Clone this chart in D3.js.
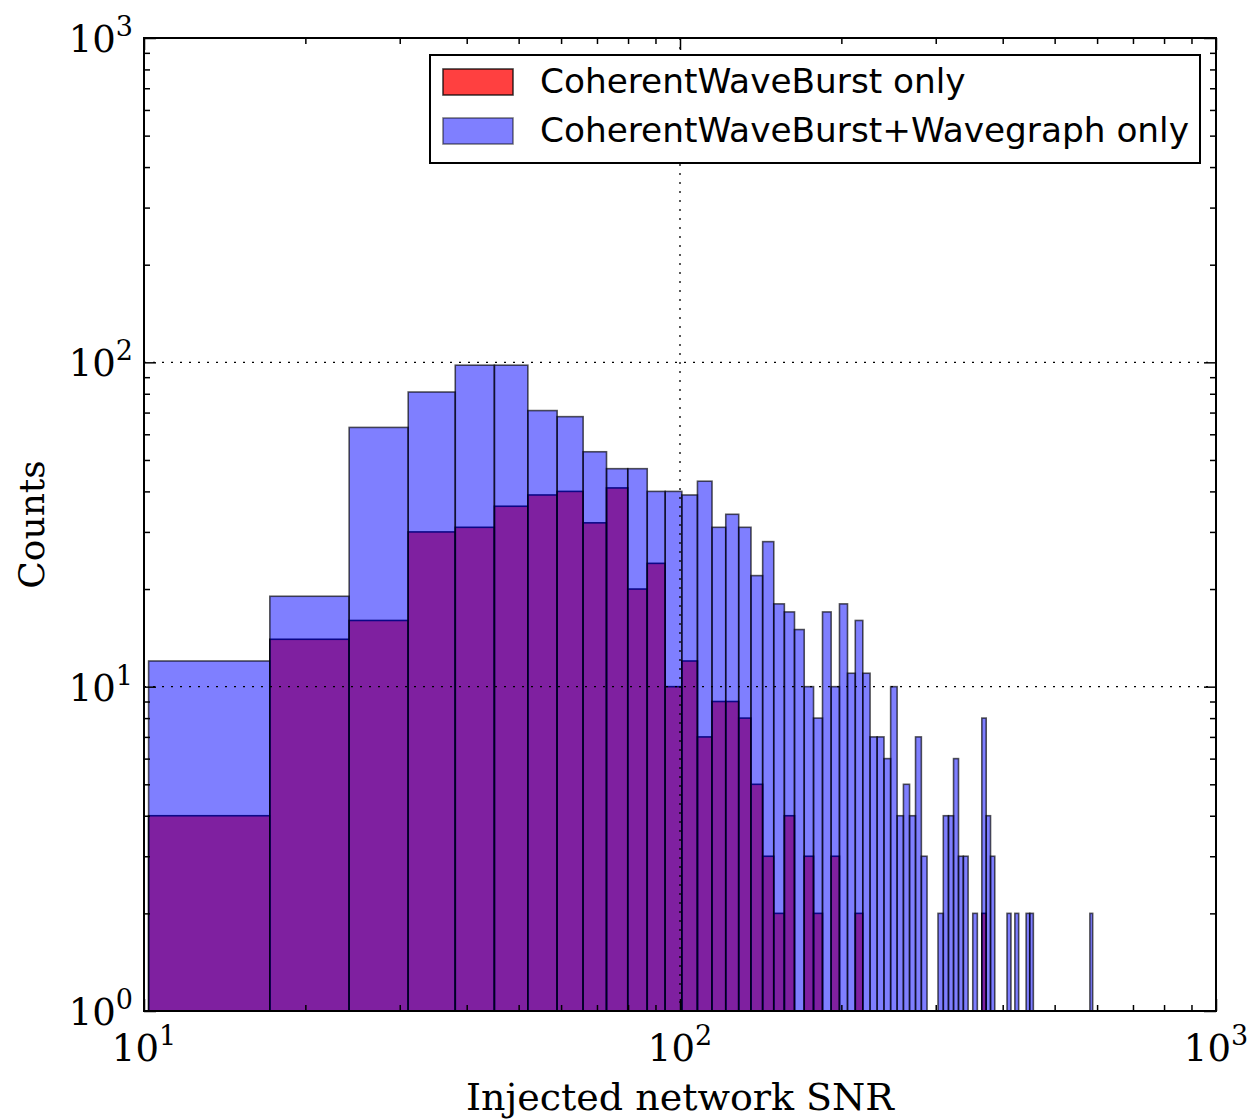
<!DOCTYPE html>
<html lang="en">
  <head>
    <meta charset="utf-8">
    <title>Injected network SNR histogram</title>
    <script src="https://cdn.jsdelivr.net/npm/d3@7"></script>
    <style>
      body { margin: 0; background: #fff; }
      .serif { font-family: "DejaVu Serif", serif; }
      .sans { font-family: "DejaVu Sans", sans-serif; }
    </style>
  </head>
  <body>
    <div id="chart"></div>
<script>

// histogram bins (injected network SNR), equal linear width
var binStart = 10.2;
var binWidth = 6.97;

// counts per bin (0 = empty bin)
var cwbOnlyCounts = [4, 14, 16, 30, 31, 36, 39, 40, 32, 41, 20, 24, 10, 12, 7, 9, 9, 8, 5, 3,
  2, 4, 0, 3, 2, 0, 3, 0, 0, 2, 0, 0, 0, 0, 0, 0, 0, 0, 0, 0,
  0, 0, 0, 0, 0, 0, 0, 0, 0, 0, 0, 2, 0, 0, 0, 0, 0, 0, 0, 0,
  0, 0, 0, 0, 0, 0, 0, 0, 0, 0, 0, 0, 0, 0, 0, 0, 0, 0, 0, 0,
  0, 0, 0];
var cwbWgCounts = [12, 19, 63, 81, 98, 98, 71, 68, 53, 47, 47, 40, 40, 39, 43, 31, 34, 31, 22, 28,
  18, 17, 15, 10, 8, 17, 10, 18, 11, 16, 11, 7, 7, 6, 10, 4, 5, 4, 7, 3,
  0, 0, 2, 4, 4, 6, 3, 3, 0, 2, 0, 8, 4, 3, 0, 0, 0, 2, 0, 2,
  0, 0, 2, 2, 0, 0, 0, 0, 0, 0, 0, 0, 0, 0, 0, 0, 0, 0, 0, 0,
  0, 0, 2];

var seriesNames = ["CoherentWaveBurst only", "CoherentWaveBurst+Wavegraph only"];
var xTickExps = [1, 2, 3];
var yTickExps = [0, 1, 2, 3];
var xLabel = "Injected network SNR";
var yLabel = "Counts";

var width = 1254, height = 1120;
var plotL = 144, plotR = 1216, plotT = 38, plotB = 1011;

var svg = d3.select("#chart").append("svg")
  .attr("width", width)
  .attr("height", height);

var x = d3.scaleLog().domain([10, 1000]).range([plotL, plotR]);
var y = d3.scaleLog().domain([1, 1000]).range([plotB, plotT]);

function binData(counts) {
  return counts.map(function(c, i) {
    return { lo: binStart + i * binWidth, hi: binStart + (i + 1) * binWidth, count: c };
  }).filter(function(d) { return d.count > 0; });
}

svg.append("defs").append("clipPath").attr("id", "plotclip")
  .append("rect").attr("x", plotL).attr("y", plotT)
  .attr("width", plotR - plotL).attr("height", plotB - plotT);

var plot = svg.append("g").attr("clip-path", "url(#plotclip)");

function drawBars(counts, color, alpha) {
  plot.append("g").selectAll("rect")
    .data(binData(counts))
    .enter()
    .append("rect")
      .attr("x", function(d) { return x(d.lo); })
      .attr("width", function(d) { return x(d.hi) - x(d.lo); })
      .attr("y", function(d) { return y(d.count); })
      .attr("height", function(d) { return y(1) - y(d.count); })
      .style("fill", color)
      .style("fill-opacity", alpha)
      .style("stroke", "#000")
      .style("stroke-width", 1.6)
      .style("stroke-opacity", Math.min(1, alpha + 0.15));
}

drawBars(cwbOnlyCounts, "#ff0000", 0.75);
drawBars(cwbWgCounts, "#0000ff", 0.5);

// dotted grid at the inner major ticks
var grid = svg.append("g")
  .style("stroke", "#000")
  .style("stroke-width", 1.3)
  .style("stroke-dasharray", "2,7");
grid.selectAll("line.gy")
  .data(yTickExps.slice(1, -1))
  .enter().append("line")
    .attr("x1", plotL).attr("x2", plotR)
    .attr("y1", function(e) { return y(Math.pow(10, e)); })
    .attr("y2", function(e) { return y(Math.pow(10, e)); });
grid.selectAll("line.gx")
  .data(xTickExps.slice(1, -1))
  .enter().append("line")
    .attr("y1", plotT).attr("y2", plotB)
    .attr("x1", function(e) { return x(Math.pow(10, e)); })
    .attr("x2", function(e) { return x(Math.pow(10, e)); });

// ticks pointing inwards on all four sides
function minorTicks(scale) {
  var d = scale.domain(), out = [];
  for (var e = Math.log10(d[0]); e < Math.log10(d[1]); e++) {
    for (var m = 2; m <= 9; m++) out.push(m * Math.pow(10, e));
  }
  return out;
}
var xMajor = xTickExps.map(function(e) { return Math.pow(10, e); });
var yMajor = yTickExps.map(function(e) { return Math.pow(10, e); });

function addAxis(axisFn, scale, values, size, tx, ty) {
  var g = svg.append("g")
    .attr("transform", "translate(" + tx + "," + ty + ")")
    .call(axisFn(scale).tickValues(values).tickSize(-size).tickSizeOuter(0).tickFormat(""));
  g.select(".domain").remove();
  g.selectAll(".tick line").style("stroke", "#000").style("stroke-width", 1.5);
}
addAxis(d3.axisBottom, x, xMajor, 12, 0, plotB);
addAxis(d3.axisBottom, x, minorTicks(x), 6, 0, plotB);
addAxis(d3.axisTop, x, xMajor, 12, 0, plotT);
addAxis(d3.axisTop, x, minorTicks(x), 6, 0, plotT);
addAxis(d3.axisLeft, y, yMajor, 12, plotL, 0);
addAxis(d3.axisLeft, y, minorTicks(y), 6, plotL, 0);
addAxis(d3.axisRight, y, yMajor, 12, plotR, 0);
addAxis(d3.axisRight, y, minorTicks(y), 6, plotR, 0);

// frame
svg.append("rect")
  .attr("x", plotL).attr("y", plotT)
  .attr("width", plotR - plotL).attr("height", plotB - plotT)
  .style("fill", "none")
  .style("stroke", "#000")
  .style("stroke-width", 2);

// tick labels as 10^n
function powLabel(sel, e) {
  sel.append("tspan").text("10");
  sel.append("tspan").attr("dy", -16).style("font-size", "27px").text(e);
}
svg.selectAll("text.ylab")
  .data(yTickExps)
  .enter().append("text")
    .attr("class", "serif")
    .attr("x", plotL - 11)
    .attr("y", function(e) { return y(Math.pow(10, e)) + 14; })
    .attr("text-anchor", "end")
    .style("font-size", "37px")
    .each(function(e) { powLabel(d3.select(this), e); });

svg.selectAll("text.xlab")
  .data(xTickExps)
  .enter().append("text")
    .attr("class", "serif")
    .attr("x", function(e) { return x(Math.pow(10, e)); })
    .attr("y", plotB + 50)
    .attr("text-anchor", "middle")
    .style("font-size", "37px")
    .each(function(e) { powLabel(d3.select(this), e); });

svg.append("text")
  .attr("class", "serif")
  .attr("x", (plotL + plotR) / 2)
  .attr("y", 1110)
  .attr("text-anchor", "middle")
  .style("font-size", "38px")
  .text(xLabel);

svg.append("text")
  .attr("class", "serif")
  .attr("transform", "translate(44," + ((plotT + plotB) / 2) + ") rotate(-90)")
  .attr("text-anchor", "middle")
  .style("font-size", "36px")
  .text(yLabel);

// legend
var legend = svg.append("g");
legend.append("rect")
  .attr("x", 430).attr("y", 55)
  .attr("width", 770).attr("height", 108)
  .style("fill", "#fff")
  .style("stroke", "#000")
  .style("stroke-width", 2);

var legendColors = [["#ff0000", 0.75], ["#0000ff", 0.5]];
seriesNames.forEach(function(name, i) {
  var ry = 69 + i * 49;
  legend.append("rect")
    .attr("x", 443).attr("y", ry)
    .attr("width", 70).attr("height", 26)
    .style("fill", legendColors[i][0])
    .style("fill-opacity", legendColors[i][1])
    .style("stroke", "#000")
    .style("stroke-width", 1.6)
    .style("stroke-opacity", legendColors[i][1]);
  legend.append("text")
    .attr("class", "sans")
    .attr("x", 540)
    .attr("y", ry + 24)
    .style("font-size", "34.3px")
    .text(name);
});

</script>
  </body>
</html>
